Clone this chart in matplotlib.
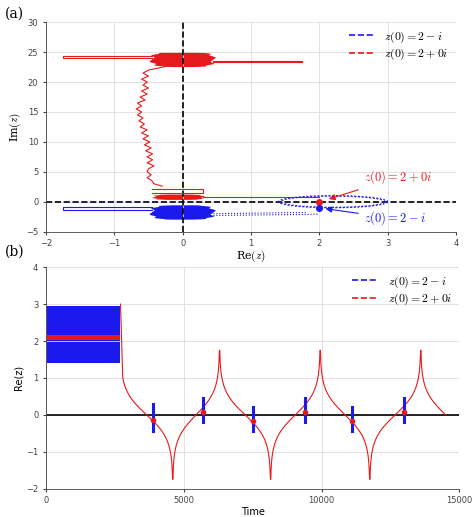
import numpy as np
import matplotlib
matplotlib.use("Agg")
import matplotlib.pyplot as plt
from matplotlib.lines import Line2D

plt.rcParams['mathtext.fontset'] = 'cm'
RED = '#e8191c'; BLUE = '#1a1aee'

# ---- panel (a) data ----
red_path_y = [22.6, 22.0, 21.5, 21.0, 20.5, 20.0, 19.5, 19.0, 18.5, 18.0, 17.5, 17.0, 16.5, 16.0, 15.5, 15.0,
              14.5, 14.0, 13.5, 13.0, 12.5, 12.0, 11.5, 11.0, 10.5, 10.0, 9.5, 9.0, 8.5, 8.0, 7.5, 7.0,
              6.5, 6.0, 5.5, 5.0, 4.5, 4.0, 3.5, 3.0, 2.6]
red_path_x = [-0.25, -0.5, -0.58, -0.5, -0.6, -0.52, -0.58, -0.5, -0.6, -0.52, -0.62, -0.55, -0.66, -0.6, -0.68, -0.6,
              -0.66, -0.58, -0.64, -0.56, -0.62, -0.52, -0.6, -0.5, -0.58, -0.48, -0.56, -0.46, -0.54, -0.44, -0.52, -0.44,
              -0.52, -0.42, -0.5, -0.52, -0.46, -0.52, -0.45, -0.42, -0.3]
red_blob_top = (-0.45, 0.45, 22.5, 25.0)
red_blob_low = (-0.42, 0.3, 0.3, 1.2)
blue_blob = (-0.45, 0.45, -3.0, -0.6)
red_loops = [(-0.45, -1.75, 24.4, 24.0), (0.45, 1.75, 23.6, 23.3), (-0.45, 0.3, 2.2, 1.5)]
blue_loops = [(-0.45, -1.75, -0.9, -1.4)]
blue_ellipse = (2.2, 0.0, 0.8, 1.0)  # cx, cy, rx, ry
start_red = (2.0, 0.0)
start_blue = (2.0, -1.0)

# ---- panel (b) data ----
spike_t = [2700, 4600, 6300, 8150, 9950, 11750, 13600, 15400]
spike_s = [1, -1, 1, -1, 1, -1, 1, -1]
cross_t = [3900, 5700, 7500, 9400, 11100, 13000]
cross_lo = [-0.45, -0.2, -0.45, -0.2, -0.45, -0.2]
cross_hi = [0.28, 0.45, 0.22, 0.45, 0.22, 0.45]
t_end = 14500
band_blue = (0, 2700, 1.4, 2.95)
band_red = (2.03, 2.17)

fig = plt.figure(figsize=(4.74, 5.17), dpi=100)
ax1 = fig.add_axes([0.097, 0.552, 0.865, 0.405])
ax2 = fig.add_axes([0.097, 0.055, 0.872, 0.428])

def blob(ax, b, c):
    x0, x1, y0, y1 = b
    cx, cy = (x0+x1)/2, (y0+y1)/2
    th = np.linspace(0, 2*np.pi, 300)
    rx = (x1-x0)/2*(1+0.08*np.sin(10*th)); ry = (y1-y0)/2
    ax.fill(cx+rx*np.sign(np.cos(th))*np.abs(np.cos(th))**0.5, cy+ry*np.sign(np.sin(th))*np.abs(np.sin(th))**0.7, color=c, lw=0)

def loop(ax, l, c, ls='-'):
    xn, xf, y1, y2 = l
    ax.plot([xn, xf, xf, xn], [y1, y1, y2, y2], color=c, lw=0.8, ls=ls)

for g in (ax1, ax2):
    g.grid(True, color='#dddddd', lw=0.6)
    g.tick_params(labelsize=6, length=2, colors='#444444')
    for s in g.spines.values():
        s.set_color('#444444'); s.set_linewidth(0.6)
    g.spines['top'].set_visible(False); g.spines['right'].set_visible(False)

ax1.axhline(0, color='k', ls='--', lw=1.2)
ax1.axvline(0, color='k', ls='--', lw=1.2)
ax1.plot(red_path_x, red_path_y, color=RED, lw=0.8)
blob(ax1, red_blob_top, RED); blob(ax1, red_blob_low, RED); blob(ax1, blue_blob, BLUE)
for l in red_loops: loop(ax1, l, RED)
for l in blue_loops: loop(ax1, l, BLUE)
ax1.plot([0.3, 2.0], [0.8, 0.8], color=RED, lw=0.8)
ax1.plot([0.45, 1.8], [-2.0, -1.8], color=BLUE, lw=0.8, ls=':')
ax1.plot([0.45, 2.0], [-2.3, -2.1], color=BLUE, lw=0.8, ls=':')
th = np.linspace(0, 2*np.pi, 200)
cx, cy, rx, ry = blue_ellipse
for k in (0.95, 1.0):
    ax1.plot(cx+rx*k*np.cos(th), cy+ry*k*np.sin(th), color=BLUE, lw=1.0, ls=':')
ax1.plot(*start_red, 'o', color=RED, ms=4)
ax1.plot(*start_blue, 'o', color=BLUE, ms=4)
ax1.annotate(r'$z(0)=2+0i$', xy=(2.1, 0.3), xytext=(2.65, 3.5), color=RED, fontsize=9,
             arrowprops=dict(arrowstyle='-|>', color=RED, lw=0.8))
ax1.annotate(r'$z(0)=2-i$', xy=(2.05, -1.1), xytext=(2.65, -3.4), color=BLUE, fontsize=9,
             arrowprops=dict(arrowstyle='-|>', color=BLUE, lw=0.8))
ax1.set_xlim(-2, 4); ax1.set_ylim(-5, 30)
ax1.set_xlabel(r'Re$(z)$', fontsize=8, labelpad=0, family='serif')
ax1.set_ylabel(r'Im$(z)$', fontsize=8, labelpad=2, family='serif')

h = [Line2D([], [], color=BLUE, ls='--', lw=1.2), Line2D([], [], color=RED, ls='--', lw=1.2)]
labs = [r'$z(0)=2-i$', r'$z(0)=2+0i$']
for g in (ax1, ax2):
    g.legend(h, labs, loc='upper right', fontsize=8.5, frameon=False, handlelength=2.2,
             labelspacing=0.2, borderaxespad=0.2)

# panel b
ax2.axhline(0, color='k', lw=1.2)
ax2.fill([band_blue[0], band_blue[1], band_blue[1], band_blue[0]],
         [band_blue[2], band_blue[2], band_blue[3], band_blue[3]], color=BLUE, lw=0)
ax2.fill([band_blue[0], band_blue[1], band_blue[1], band_blue[0]],
         [band_red[0], band_red[0], band_red[1], band_red[1]], color=RED, lw=0)
t = np.linspace(spike_t[0] + 5, t_end, 6000)
v = np.zeros_like(t)
for s_t, s_s in zip(spike_t, spike_s):
    d = np.maximum(np.abs(t - s_t), 1.0)
    v += s_s * np.maximum(0.33 * np.log(1800 / d), 0)
v = np.clip(v, -1.75, 1.75)
v[:40] = np.linspace(3.0, v[40], 40)
ax2.plot(t, v, color=RED, lw=0.8)
for c, lo, hi in zip(cross_t, cross_lo, cross_hi):
    ax2.plot([c, c], [lo, hi], color=BLUE, lw=2.2)
    ax2.plot(c, (lo+hi)/2 - 0.05, 'o', color=RED, ms=3)
ax2.set_xlim(0, 15000); ax2.set_ylim(-2, 4)
ax2.set_xticks([0, 5000, 10000, 15000])
ax2.set_xlabel('Time', fontsize=7, labelpad=1)
ax2.set_ylabel('Re(z)', fontsize=7, labelpad=2)

fig.text(0.01, 0.965, '(a)', fontsize=10, family='serif')
fig.text(0.01, 0.505, '(b)', fontsize=10, family='serif')
fig.savefig('out.png', dpi=100)
